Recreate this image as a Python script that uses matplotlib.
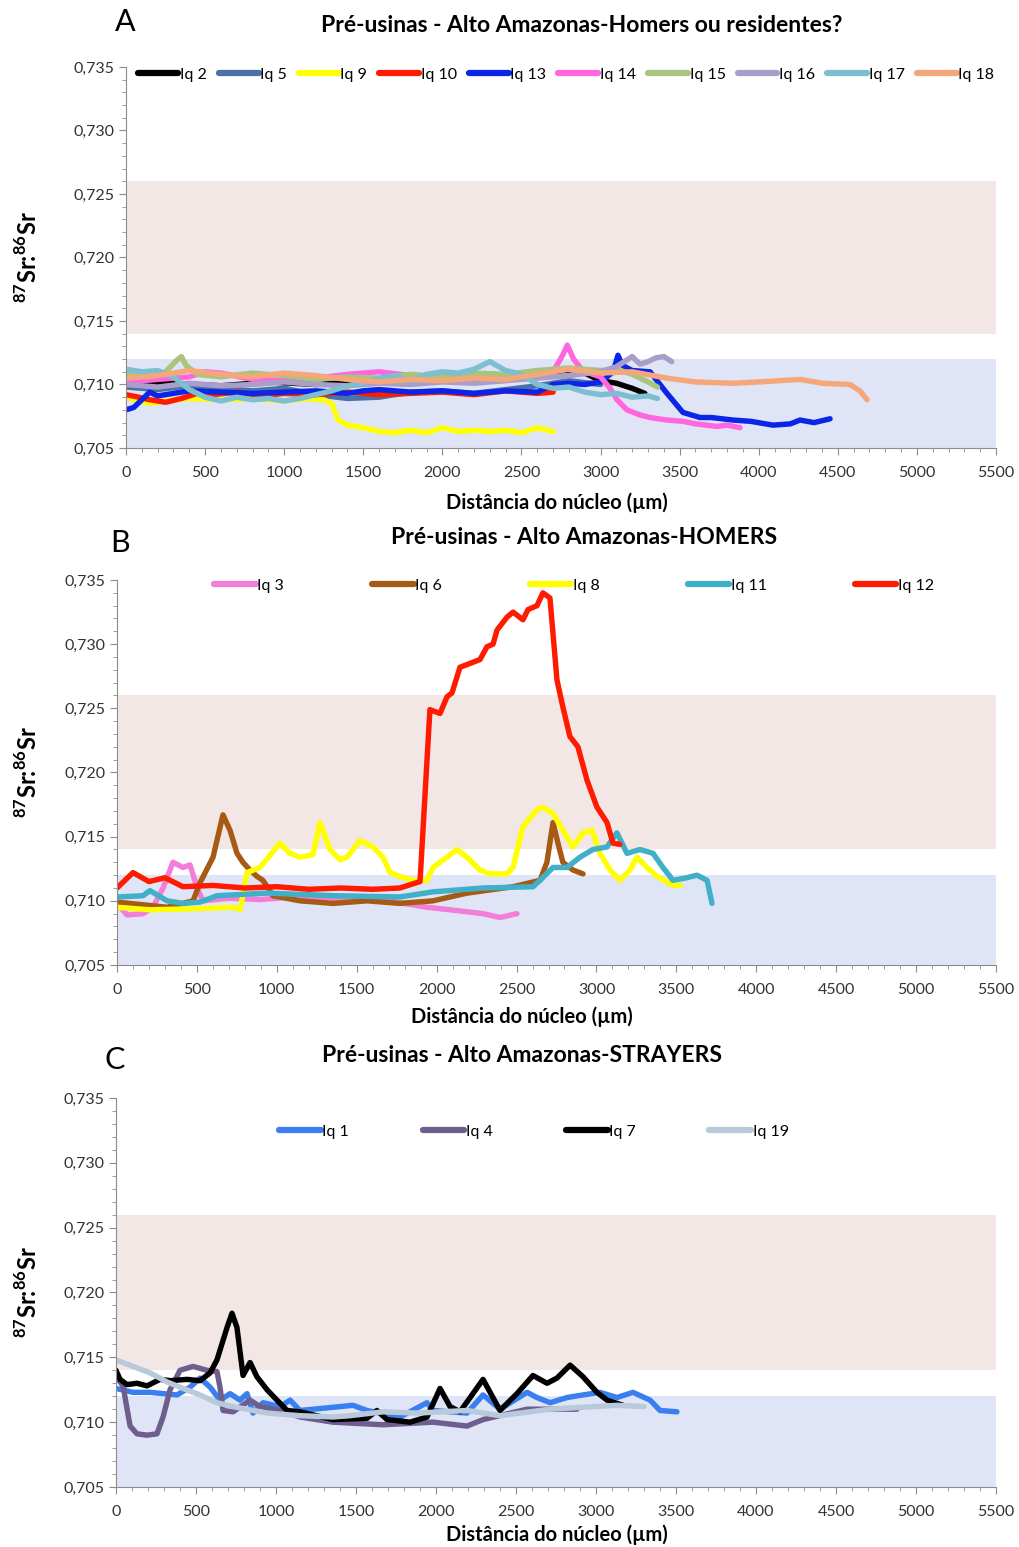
import matplotlib
matplotlib.use("Agg")
import matplotlib.pyplot as plt
from matplotlib.ticker import FuncFormatter, MultipleLocator

plt.rcParams["font.family"] = ["Lato", "DejaVu Sans"]
plt.rcParams["mathtext.fontset"] = "custom"
plt.rcParams["mathtext.rm"] = "Lato"
plt.rcParams["mathtext.bf"] = "Lato:bold"

# ---- Panel A: Homers ou residentes? ----
a_iq2_x = [0, 300, 600, 900, 1200, 1500, 1800, 2100, 2400, 2700, 2850, 3000, 3100, 3200, 3280]
a_iq2_y = [0.7100, 0.7101, 0.7099, 0.7102, 0.7100, 0.7103, 0.7101, 0.7104, 0.7106, 0.7110,
           0.7112, 0.7103, 0.7101, 0.7097, 0.7093]
a_iq5_x = [0, 200, 400, 600, 800, 1000, 1200, 1400, 1600, 1800, 2000, 2200, 2400, 2600, 2800, 3000]
a_iq5_y = [0.7098, 0.7096, 0.7099, 0.7097, 0.7095, 0.7097, 0.7092, 0.7089, 0.7090, 0.7094,
           0.7095, 0.7093, 0.7096, 0.7099, 0.7103, 0.7100]
a_iq9_x = [0, 60, 150, 250, 400, 600, 800, 1000, 1150, 1250, 1300, 1340, 1400, 1500, 1600, 1700,
           1800, 1900, 2000, 2100, 2200, 2300, 2400, 2500, 2600, 2700]
a_iq9_y = [0.7090, 0.7088, 0.7085, 0.7087, 0.7089, 0.7088, 0.7089, 0.7087, 0.7089, 0.7088,
           0.7085, 0.7072, 0.7068, 0.7066, 0.7063, 0.7062, 0.7064, 0.7062, 0.7066, 0.7063,
           0.7064, 0.7063, 0.7064, 0.7062, 0.7066, 0.7063]
a_iq10_x = [0, 80, 150, 250, 350, 450, 550, 700, 850, 1000, 1200, 1400, 1600, 1800, 2000, 2200,
            2400, 2600, 2700]
a_iq10_y = [0.7092, 0.7090, 0.7088, 0.7086, 0.7089, 0.7093, 0.7092, 0.7094, 0.7091, 0.7093,
            0.7092, 0.7094, 0.7092, 0.7093, 0.7094, 0.7092, 0.7095, 0.7093, 0.7094]
a_iq13_x = [0, 50, 100, 150, 200, 300, 400, 600, 800, 1000, 1200, 1400, 1500, 1600, 1800, 2000,
            2200, 2400, 2600, 2700, 2800, 2900, 3000, 3080, 3110, 3140, 3200, 3313, 3420, 3521,
            3629, 3700, 3837, 3950, 4090, 4200, 4261, 4350, 4451]
a_iq13_y = [0.7080, 0.7082, 0.7088, 0.7094, 0.7091, 0.7093, 0.7095, 0.7094, 0.7093, 0.7094,
            0.7095, 0.7093, 0.7095, 0.7096, 0.7094, 0.7095, 0.7093, 0.7095, 0.7094, 0.7100,
            0.7101, 0.7100, 0.7102, 0.7110, 0.7123, 0.7115, 0.7111, 0.7110, 0.7093, 0.7078,
            0.7074, 0.7074, 0.7072, 0.7071, 0.7068, 0.7069, 0.7072, 0.7070, 0.7073]
a_iq14_x = [0, 200, 400, 500, 600, 800, 1000, 1200, 1400, 1600, 1800, 2000, 2200, 2400, 2600,
            2700, 2760, 2790, 2830, 2880, 2950, 3000, 3060, 3104, 3167, 3250, 3313, 3420, 3521,
            3600, 3736, 3800, 3882]
a_iq14_y = [0.7102, 0.7104, 0.7106, 0.7110, 0.7109, 0.7104, 0.7103, 0.7105, 0.7108, 0.7110,
            0.7107, 0.7105, 0.7107, 0.7106, 0.7108, 0.7110, 0.7123, 0.7131, 0.7120, 0.7112,
            0.7108, 0.7106, 0.7097, 0.7088, 0.7080, 0.7076, 0.7074, 0.7072, 0.7071, 0.7069,
            0.7067, 0.7068, 0.7066]
a_iq15_x = [0, 150, 250, 320, 350, 380, 450, 600, 800, 1000, 1200, 1400, 1600, 1800, 2000, 2200,
            2400, 2600, 2800, 3000, 3100, 3200, 3300, 3360]
a_iq15_y = [0.7108, 0.7106, 0.7110, 0.7119, 0.7122, 0.7115, 0.7108, 0.7106, 0.7109, 0.7107,
            0.7104, 0.7106, 0.7105, 0.7108, 0.7106, 0.7109, 0.7108, 0.7111, 0.7113, 0.7111,
            0.7112, 0.7108, 0.7102, 0.7098]
a_iq16_x = [0, 200, 400, 600, 800, 1000, 1200, 1400, 1600, 1800, 2000, 2200, 2400, 2600, 2800,
            3000, 3100, 3150, 3200, 3250, 3300, 3350, 3400, 3450]
a_iq16_y = [0.7100, 0.7098, 0.7101, 0.7099, 0.7100, 0.7102, 0.7100, 0.7099, 0.7101, 0.7100,
            0.7102, 0.7101, 0.7103, 0.7105, 0.7107, 0.7110, 0.7114, 0.7118, 0.7122, 0.7116,
            0.7118, 0.7121, 0.7122, 0.7118]
a_iq17_x = [0, 100, 200, 300, 400, 500, 600, 700, 800, 900, 1000, 1100, 1200, 1300, 1400, 1500,
            1600, 1700, 1800, 1900, 2000, 2100, 2200, 2300, 2400, 2500, 2600, 2700, 2800, 2900,
            3000, 3100, 3200, 3300, 3360]
a_iq17_y = [0.7112, 0.7110, 0.7111, 0.7106, 0.7096, 0.7090, 0.7087, 0.7090, 0.7088, 0.7089,
            0.7087, 0.7089, 0.7092, 0.7095, 0.7099, 0.7101, 0.7105, 0.7107, 0.7103, 0.7108,
            0.7110, 0.7109, 0.7112, 0.7118, 0.7111, 0.7108, 0.7100, 0.7097, 0.7098, 0.7094,
            0.7092, 0.7093, 0.7090, 0.7091, 0.7089]
a_iq18_x = [0, 200, 400, 600, 800, 1000, 1200, 1400, 1600, 1800, 2000, 2200, 2400, 2600, 2800,
            3000, 3200, 3420, 3600, 3837, 4000, 4261, 4400, 4577, 4640, 4685]
a_iq18_y = [0.7105, 0.7107, 0.7111, 0.7108, 0.7106, 0.7109, 0.7107, 0.7104, 0.7102, 0.7104,
            0.7103, 0.7105, 0.7104, 0.7108, 0.7112, 0.7109, 0.7110, 0.7105, 0.7102, 0.7101,
            0.7102, 0.7104, 0.7101, 0.7100, 0.7095, 0.7088]

# ---- Panel B: HOMERS ----
b_iq3_x = [0, 63, 163, 225, 288, 350, 413, 457, 501, 538, 700, 900, 1100, 1300, 1500, 1700,
           1940, 2084, 2290, 2396, 2503]
b_iq3_y = [0.7098, 0.7089, 0.7090, 0.7095, 0.7110, 0.7130, 0.7126, 0.7128, 0.7110, 0.7100,
           0.7102, 0.7101, 0.7103, 0.7101, 0.7102, 0.7100, 0.7095, 0.7093, 0.7090, 0.7087,
           0.7090]
b_iq6_x = [0, 313, 476, 519, 601, 663, 707, 751, 788, 832, 876, 913, 976, 1145, 1352, 1564, 1771,
           1977, 2190, 2478, 2647, 2690, 2728, 2759, 2790, 2853, 2916]
b_iq6_y = [0.7099, 0.7095, 0.7100, 0.7114, 0.7134, 0.7167, 0.7155, 0.7137, 0.7130, 0.7124,
           0.7119, 0.7116, 0.7104, 0.7100, 0.7098, 0.7100, 0.7098, 0.7100, 0.7106, 0.7111,
           0.7116, 0.7130, 0.7161, 0.7145, 0.7130, 0.7124, 0.7121]
b_iq8_x = [0, 206, 519, 726, 770, 813, 895, 1020, 1082, 1145, 1226, 1270, 1333, 1395, 1439, 1520,
           1602, 1664, 1708, 1771, 1852, 1940, 1977, 2065, 2127, 2190, 2271, 2334, 2440, 2478,
           2540, 2628, 2665, 2728, 2790, 2853, 2916, 2972, 3022, 3085, 3147, 3210, 3254, 3316,
           3379, 3479, 3523]
b_iq8_y = [0.7095, 0.7093, 0.7094, 0.7095, 0.7093, 0.7122, 0.7126, 0.7145, 0.7137, 0.7134,
           0.7136, 0.7161, 0.7140, 0.7132, 0.7134, 0.7147, 0.7142, 0.7134, 0.7122, 0.7119,
           0.7116, 0.7116, 0.7126, 0.7134, 0.7140, 0.7134, 0.7124, 0.7121, 0.7121, 0.7126,
           0.7158, 0.7171, 0.7173, 0.7168, 0.7155, 0.7142, 0.7153, 0.7155, 0.7137, 0.7124,
           0.7116, 0.7124, 0.7134, 0.7126, 0.7119, 0.7112, 0.7112]
b_iq11_x = [0, 163, 206, 313, 413, 519, 626, 939, 1352, 1771, 1977, 2290, 2603, 2647, 2728, 2816,
            2897, 2978, 3066, 3128, 3191, 3272, 3354, 3416, 3479, 3566, 3629, 3692, 3723]
b_iq11_y = [0.7103, 0.7104, 0.7108, 0.7100, 0.7098, 0.7099, 0.7104, 0.7106, 0.7104, 0.7103,
            0.7107, 0.7110, 0.7111, 0.7116, 0.7126, 0.7126, 0.7134, 0.7140, 0.7142, 0.7153,
            0.7137, 0.7140, 0.7137, 0.7126, 0.7116, 0.7118, 0.7120, 0.7116, 0.7098]
b_iq12_x = [0, 100, 200, 300, 413, 600, 800, 1000, 1200, 1400, 1600, 1770, 1896, 1958, 2021, 2065,
            2096, 2146, 2209, 2271, 2315, 2353, 2378, 2440, 2478, 2540, 2572, 2628, 2665, 2709,
            2753, 2790, 2834, 2884, 2941, 3003, 3066, 3103, 3147]
b_iq12_y = [0.7110, 0.7122, 0.7115, 0.7118, 0.7111, 0.7112, 0.7110, 0.7111, 0.7109, 0.7110,
            0.7109, 0.7110, 0.7115, 0.7249, 0.7246, 0.7259, 0.7262, 0.7282, 0.7285, 0.7288,
            0.7298, 0.7300, 0.7311, 0.7321, 0.7325, 0.7319, 0.7327, 0.7330, 0.7340, 0.7336,
            0.7272, 0.7251, 0.7228, 0.7220, 0.7194, 0.7173, 0.7161, 0.7145, 0.7144]

# ---- Panel C: STRAYERS ----
c_iq1_x = [0, 106, 213, 381, 463, 525, 588, 650, 713, 775, 819, 856, 919, 1025, 1088, 1150, 1400,
           1481, 1569, 1775, 1944, 1981, 2194, 2294, 2400, 2569, 2631, 2713, 2819, 2919, 3025,
           3131, 3231, 3338, 3400, 3506]
c_iq1_y = [0.7126, 0.7123, 0.7123, 0.7121, 0.7127, 0.7134, 0.7127, 0.7117, 0.7122, 0.7117,
           0.7122, 0.7107, 0.7115, 0.7112, 0.7117, 0.7109, 0.7112, 0.7113, 0.7109, 0.7104,
           0.7115, 0.7109, 0.7107, 0.7121, 0.7110, 0.7123, 0.7119, 0.7115, 0.7119, 0.7121,
           0.7123, 0.7119, 0.7123, 0.7117, 0.7109, 0.7108]
c_iq4_x = [0, 44, 88, 131, 194, 256, 294, 338, 400, 481, 569, 631, 650, 669, 731, 838, 900, 1025,
           1150, 1356, 1669, 1981, 2194, 2294, 2569, 2881]
c_iq4_y = [0.7135, 0.7128, 0.7097, 0.7091, 0.7090, 0.7091, 0.7104, 0.7125, 0.7140, 0.7143,
           0.7140, 0.7139, 0.7127, 0.7109, 0.7108, 0.7117, 0.7112, 0.7109, 0.7104, 0.7100,
           0.7098, 0.7100, 0.7097, 0.7102, 0.7110, 0.7110]
c_iq7_x = [0, 25, 69, 131, 194, 275, 338, 444, 525, 588, 631, 694, 725, 756, 794, 838, 881, 944,
           1006, 1069, 1150, 1356, 1569, 1631, 1694, 1838, 1944, 2025, 2088, 2150, 2294, 2400,
           2506, 2606, 2694, 2756, 2838, 2919, 3006, 3069, 3169]
c_iq7_y = [0.7140, 0.7133, 0.7129, 0.7130, 0.7128, 0.7133, 0.7132, 0.7133, 0.7132, 0.7138,
           0.7148, 0.7173, 0.7184, 0.7173, 0.7136, 0.7146, 0.7135, 0.7125, 0.7117, 0.7109,
           0.7108, 0.7102, 0.7103, 0.7109, 0.7102, 0.7100, 0.7104, 0.7126, 0.7112, 0.7108,
           0.7133, 0.7109, 0.7122, 0.7136, 0.7130, 0.7134, 0.7144, 0.7135, 0.7123, 0.7117,
           0.7113]
c_iq19_x = [0, 106, 213, 319, 419, 525, 631, 731, 944, 1150, 1356, 1463, 1669, 1881, 2194, 2400,
            2713, 3131, 3300]
c_iq19_y = [0.7148, 0.7143, 0.7138, 0.7131, 0.7126, 0.7121, 0.7115, 0.7112, 0.7107, 0.7105,
            0.7104, 0.7105, 0.7108, 0.7107, 0.7109, 0.7105, 0.7110, 0.7113, 0.7112]

PANEL_A = [
    ("Iq 2", a_iq2_x, a_iq2_y, "#000000"),
    ("Iq 5", a_iq5_x, a_iq5_y, "#4a72a8"),
    ("Iq 9", a_iq9_x, a_iq9_y, "#ffff00"),
    ("Iq 10", a_iq10_x, a_iq10_y, "#ff1a00"),
    ("Iq 13", a_iq13_x, a_iq13_y, "#0a24e8"),
    ("Iq 14", a_iq14_x, a_iq14_y, "#ff66e0"),
    ("Iq 15", a_iq15_x, a_iq15_y, "#a9c47c"),
    ("Iq 16", a_iq16_x, a_iq16_y, "#a89ec8"),
    ("Iq 17", a_iq17_x, a_iq17_y, "#7bbfd0"),
    ("Iq 18", a_iq18_x, a_iq18_y, "#f5a77a"),
]
PANEL_B = [
    ("Iq 3", b_iq3_x, b_iq3_y, "#f27ed8"),
    ("Iq 6", b_iq6_x, b_iq6_y, "#a65a14"),
    ("Iq 8", b_iq8_x, b_iq8_y, "#ffff00"),
    ("Iq 11", b_iq11_x, b_iq11_y, "#3fb0c8"),
    ("Iq 12", b_iq12_x, b_iq12_y, "#ff1a00"),
]
PANEL_C = [
    ("Iq 1", c_iq1_x, c_iq1_y, "#3a7ff0"),
    ("Iq 4", c_iq4_x, c_iq4_y, "#6e5e8e"),
    ("Iq 7", c_iq7_x, c_iq7_y, "#000000"),
    ("Iq 19", c_iq19_x, c_iq19_y, "#b9c9dc"),
]

W, H = 1020, 1547
XLABEL = "Distância do núcleo (µm)"
YLABEL = r"$^{\mathbf{87}}$Sr:$^{\mathbf{86}}$Sr"


def px_rect(left, right, top, bottom):
    return [left / W, 1 - bottom / H, (right - left) / W, (bottom - top) / H]


def draw_panel(fig, rect, series, title, title_x, legend_kw):
    ax = fig.add_axes(rect)
    ax.axhspan(0.714, 0.726, color="#f3e7e5", lw=0, zorder=0)
    ax.axhspan(0.705, 0.712, color="#dfe5f6", lw=0, zorder=0)
    for name, xs, ys, col in series:
        ax.plot(xs, ys, color=col, lw=3.9, label=name, solid_capstyle="round",
                solid_joinstyle="round", zorder=2)
    ax.set_xlim(0, 5500)
    ax.set_ylim(0.705, 0.735)
    ax.xaxis.set_major_locator(MultipleLocator(500))
    ax.xaxis.set_minor_locator(MultipleLocator(100))
    ax.yaxis.set_major_locator(MultipleLocator(0.005))
    ax.yaxis.set_minor_locator(MultipleLocator(0.001))
    ax.yaxis.set_major_formatter(FuncFormatter(lambda v, p: f"{v:.3f}".replace(".", ",")))
    for s in ("top", "right"):
        ax.spines[s].set_visible(False)
    for s in ("left", "bottom"):
        ax.spines[s].set_color("#8c8c8c")
    ax.tick_params(which="major", length=5, color="#8c8c8c", labelsize=11.5, labelcolor="#333333")
    ax.tick_params(which="minor", length=3, color="#8c8c8c")
    ax.tick_params(axis="x", pad=8)
    ax.text(title_x, 1.11, title, transform=ax.transAxes, ha="center", va="center",
            fontsize=16.5, fontweight="bold")
    leg = ax.legend(frameon=False, handletextpad=0.1, fontsize=11.5, borderaxespad=0,
                    loc="center", **legend_kw)
    for line in leg.get_lines():
        line.set_linewidth(4.5)
    # y label, centred on the plot area, about 28 px from the figure's left edge
    x0, y0, w, h = rect
    fig.text(28 / W, y0 + h / 2, YLABEL, rotation=90, ha="center", va="center",
             fontsize=17, fontweight="bold")
    return ax


fig = plt.figure(figsize=(W / 100, H / 100), dpi=100)

draw_panel(fig, px_rect(126, 996, 67, 448), PANEL_A,
           "Pré-usinas - Alto Amazonas-Homers ou residentes?", 0.524,
           dict(ncol=10, bbox_to_anchor=(0.506, 0.98), handlelength=2.5, columnspacing=0.75))
draw_panel(fig, px_rect(117, 996, 580, 965), PANEL_B,
           "Pré-usinas - Alto Amazonas-HOMERS", 0.531,
           dict(ncol=5, bbox_to_anchor=(0.52, 0.985), handlelength=2.6, columnspacing=5.5))
draw_panel(fig, px_rect(116, 996, 1098, 1487), PANEL_C,
           "Pré-usinas - Alto Amazonas-STRAYERS", 0.461,
           dict(ncol=4, bbox_to_anchor=(0.475, 0.913), handlelength=2.6, columnspacing=4.6))

for letter, x, y in (("A", 125, 22), ("B", 120, 543), ("C", 115, 1060)):
    fig.text(x / W, 1 - y / H, letter, ha="center", va="center", fontsize=22)
for x, y in ((557, 503), (522, 1017), (557, 1535)):
    fig.text(x / W, 1 - y / H, XLABEL, ha="center", va="center", fontsize=14.5, fontweight="bold")

fig.savefig("out.png", dpi=100)
